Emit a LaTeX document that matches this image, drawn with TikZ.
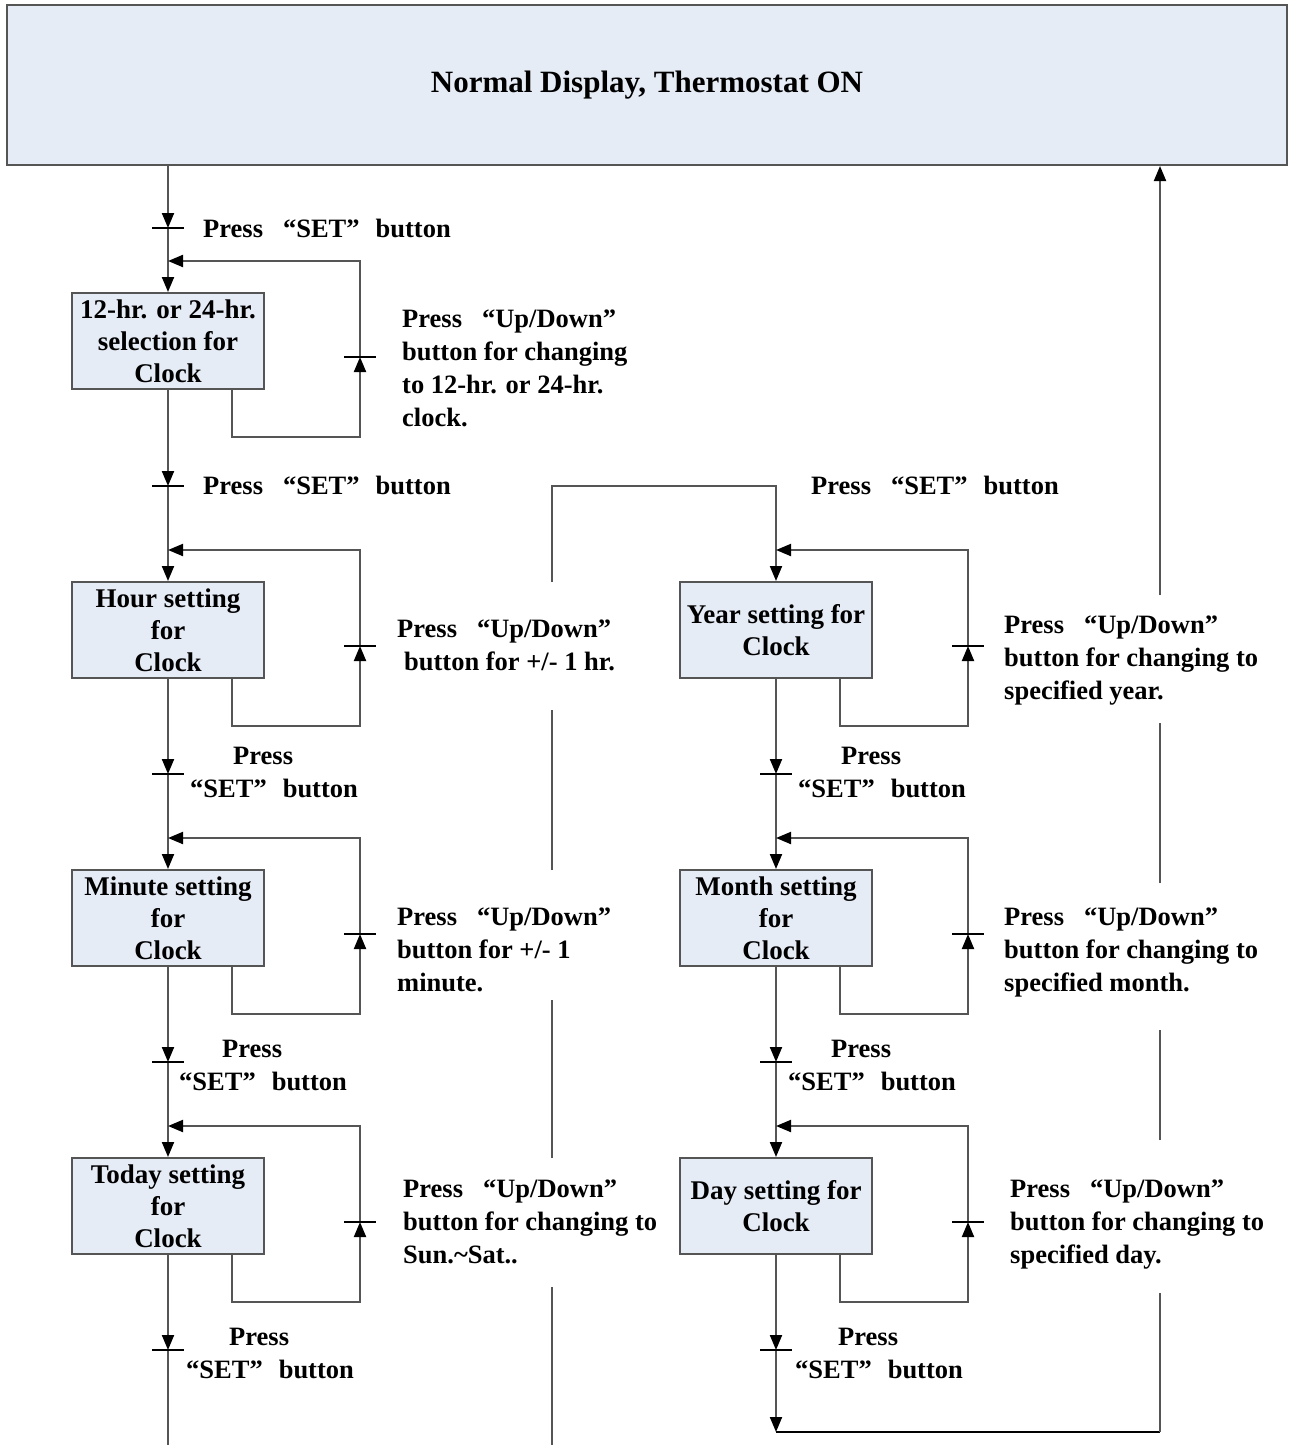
\documentclass[tikz,border=0pt]{standalone}
\usepackage{fontspec}
\setmainfont{Liberation Serif}
\usetikzlibrary{arrows.meta}
\definecolor{boxfill}{RGB}{230,236,246}
\definecolor{linegray}{RGB}{85,85,85}
\newcommand{\qsp}{\hspace{20pt}}
\newcommand{\qspb}{\hspace{16pt}}
\newcommand{\PSET}{Press\qsp“SET”\qspb button}
\newcommand{\PSETtwo}{\hspace*{43pt}Press\\“SET”\qspb button}
\begin{document}
\begin{tikzpicture}[x=1pt,y=-1pt,
  conn/.style={draw=linegray,line width=2pt},
  arr/.style={conn,-{Triangle[length=15pt,width=12pt,color=black]}},
  tick/.style={draw=black,line width=1.6pt},
  topbox/.style={draw=linegray,line width=2pt,fill=boxfill,minimum width=1280pt,minimum height=160pt,inner sep=0pt,font=\fontsize{31}{36}\selectfont\bfseries},
  stepbox/.style={draw=linegray,line width=2pt,fill=boxfill,minimum width=192pt,minimum height=96pt,inner sep=0pt,align=center,font=\fontsize{27}{32}\selectfont\bfseries},
  lbl/.style={inner sep=0pt,align=left,anchor=north west,font=\fontsize{26.5}{33}\selectfont\bfseries},
]
\useasboundingbox[fill=white] (0,0) rectangle (1288,1445);

% nodes
\node[topbox] (top) at (647,85) {Normal Display, Thermostat ON};
\node[stepbox] (b1) at (168,341) {12-hr. or 24-hr.\\selection for\\Clock};
\node[stepbox] (b2) at (168,630) {Hour setting\\for\\Clock};
\node[stepbox] (b3) at (168,918) {Minute setting\\for\\Clock};
\node[stepbox] (b4) at (168,1206) {Today setting\\for\\Clock};
\node[stepbox] (y1) at (776,630) {Year setting for\\Clock};
\node[stepbox] (y2) at (776,918) {Month setting\\for\\Clock};
\node[stepbox] (y3) at (776,1206) {Day setting for\\Clock};

% SET tick points
\coordinate (t0) at (168,228);
\coordinate (t1) at (168,486);
\coordinate (t2) at (168,774);
\coordinate (t3) at (168,1062);
\coordinate (t4) at (168,1350);
\coordinate (u1) at (776,774);
\coordinate (u2) at (776,1062);
\coordinate (u3) at (776,1350);
\coordinate (lend) at (168,1445);
\coordinate (bl) at (776,1432);
\coordinate (br) at (1160,1432);
\coordinate (mend) at (552,1445);
\coordinate (mtop) at (552,486);
\coordinate (mj) at (776,486);

% left chain
\draw[arr] (top.south -| b1.north) -- (t0);
\draw[arr] (t0) -- (b1.north);
\draw[arr] (b1.south) -- (t1);
\draw[arr] (t1) -- (b2.north);
\draw[arr] (b2.south) -- (t2);
\draw[arr] (t2) -- (b3.north);
\draw[arr] (b3.south) -- (t3);
\draw[arr] (t3) -- (b4.north);
\draw[arr] (b4.south) -- (t4);
\draw[conn] (t4) -- (lend);

% right chain
\draw[arr] (y1.south) -- (u1);
\draw[arr] (u1) -- (y2.north);
\draw[arr] (y2.south) -- (u2);
\draw[arr] (u2) -- (y3.north);
\draw[arr] (y3.south) -- (u3);
\draw[arr] (u3) -- (bl);
\draw[draw=black,line width=2.4pt] (bl) -- (br);

% return line to top
\draw[conn] (br) -- (1160,1293);
\draw[conn] (1160,1140) -- (1160,1030);
\draw[conn] (1160,883) -- (1160,723);
\draw[arr] (1160,595) -- (top.south -| br);

% middle line
\draw[conn] (mend) -- (552,1287);
\draw[conn] (552,1158) -- (552,1000);
\draw[conn] (552,870) -- (552,710);
\draw[arr] (552,582) -- (mtop) -- (mj) -- (y1.north);

% ticks on SET lines
\foreach \t in {t0,t1,t2,t3,t4,u1,u2,u3}{
  \draw[tick] ([xshift=-16pt]\t) -- ([xshift=16pt]\t);
}

% Up/Down loops
\foreach \b in {b1,b2,b3,b4,y1,y2,y3}{
  \coordinate (\b-ls) at ([xshift=64pt]\b.south);
  \coordinate (\b-lb) at ([xshift=64pt,yshift=-47pt]\b.south);
  \coordinate (\b-rb) at ([xshift=192pt,yshift=-47pt]\b.south);
  \coordinate (\b-tk) at ([xshift=192pt,yshift=-16pt]\b.center);
  \coordinate (\b-rt) at ([xshift=192pt,yshift=31pt]\b.north);
  \coordinate (\b-in) at ([yshift=31pt]\b.north);
  \draw[arr] (\b-ls) -- (\b-lb) -- (\b-rb) -- (\b-tk);
  \draw[arr] (\b-tk) -- (\b-rt) -- (\b-in);
  \draw[tick] ([xshift=-16pt]\b-tk) -- ([xshift=16pt]\b-tk);
}

% SET labels
\node[lbl] (s0) at (203,219) {\PSET};
\node[lbl] (s1) at (203,476) {\PSET};
\node[lbl] (s5) at (811,476) {\PSET};
\node[lbl] (s2) at (190,747) {\PSETtwo};
\node[lbl] (s3) at (179,1040) {\PSETtwo};
\node[lbl] (s4) at (186,1328) {\PSETtwo};
\node[lbl] (s6) at (798,747) {\PSETtwo};
\node[lbl] (s7) at (788,1040) {\PSETtwo};
\node[lbl] (s8) at (795,1328) {\PSETtwo};

% Up/Down labels
\node[lbl] (l1) at (402,310) {Press\qsp“Up/Down”\\button for changing\\to 12-hr. or 24-hr.\\clock.};
\node[lbl] (l2) at (397,620) {Press\qsp“Up/Down”\\\hspace*{7pt}button for +/- 1 hr.};
\node[lbl] (l3) at (397,908) {Press\qsp“Up/Down”\\button for +/- 1\\minute.};
\node[lbl] (l4) at (403,1180) {Press\qsp“Up/Down”\\button for changing to\\Sun.\textasciitilde Sat..};
\node[lbl] (r1) at (1004,616) {Press\qsp“Up/Down”\\button for changing to\\specified year.};
\node[lbl] (r2) at (1004,908) {Press\qsp“Up/Down”\\button for changing to\\specified month.};
\node[lbl] (r3) at (1010,1180) {Press\qsp“Up/Down”\\button for changing to\\specified day.};
\end{tikzpicture}
\end{document}
